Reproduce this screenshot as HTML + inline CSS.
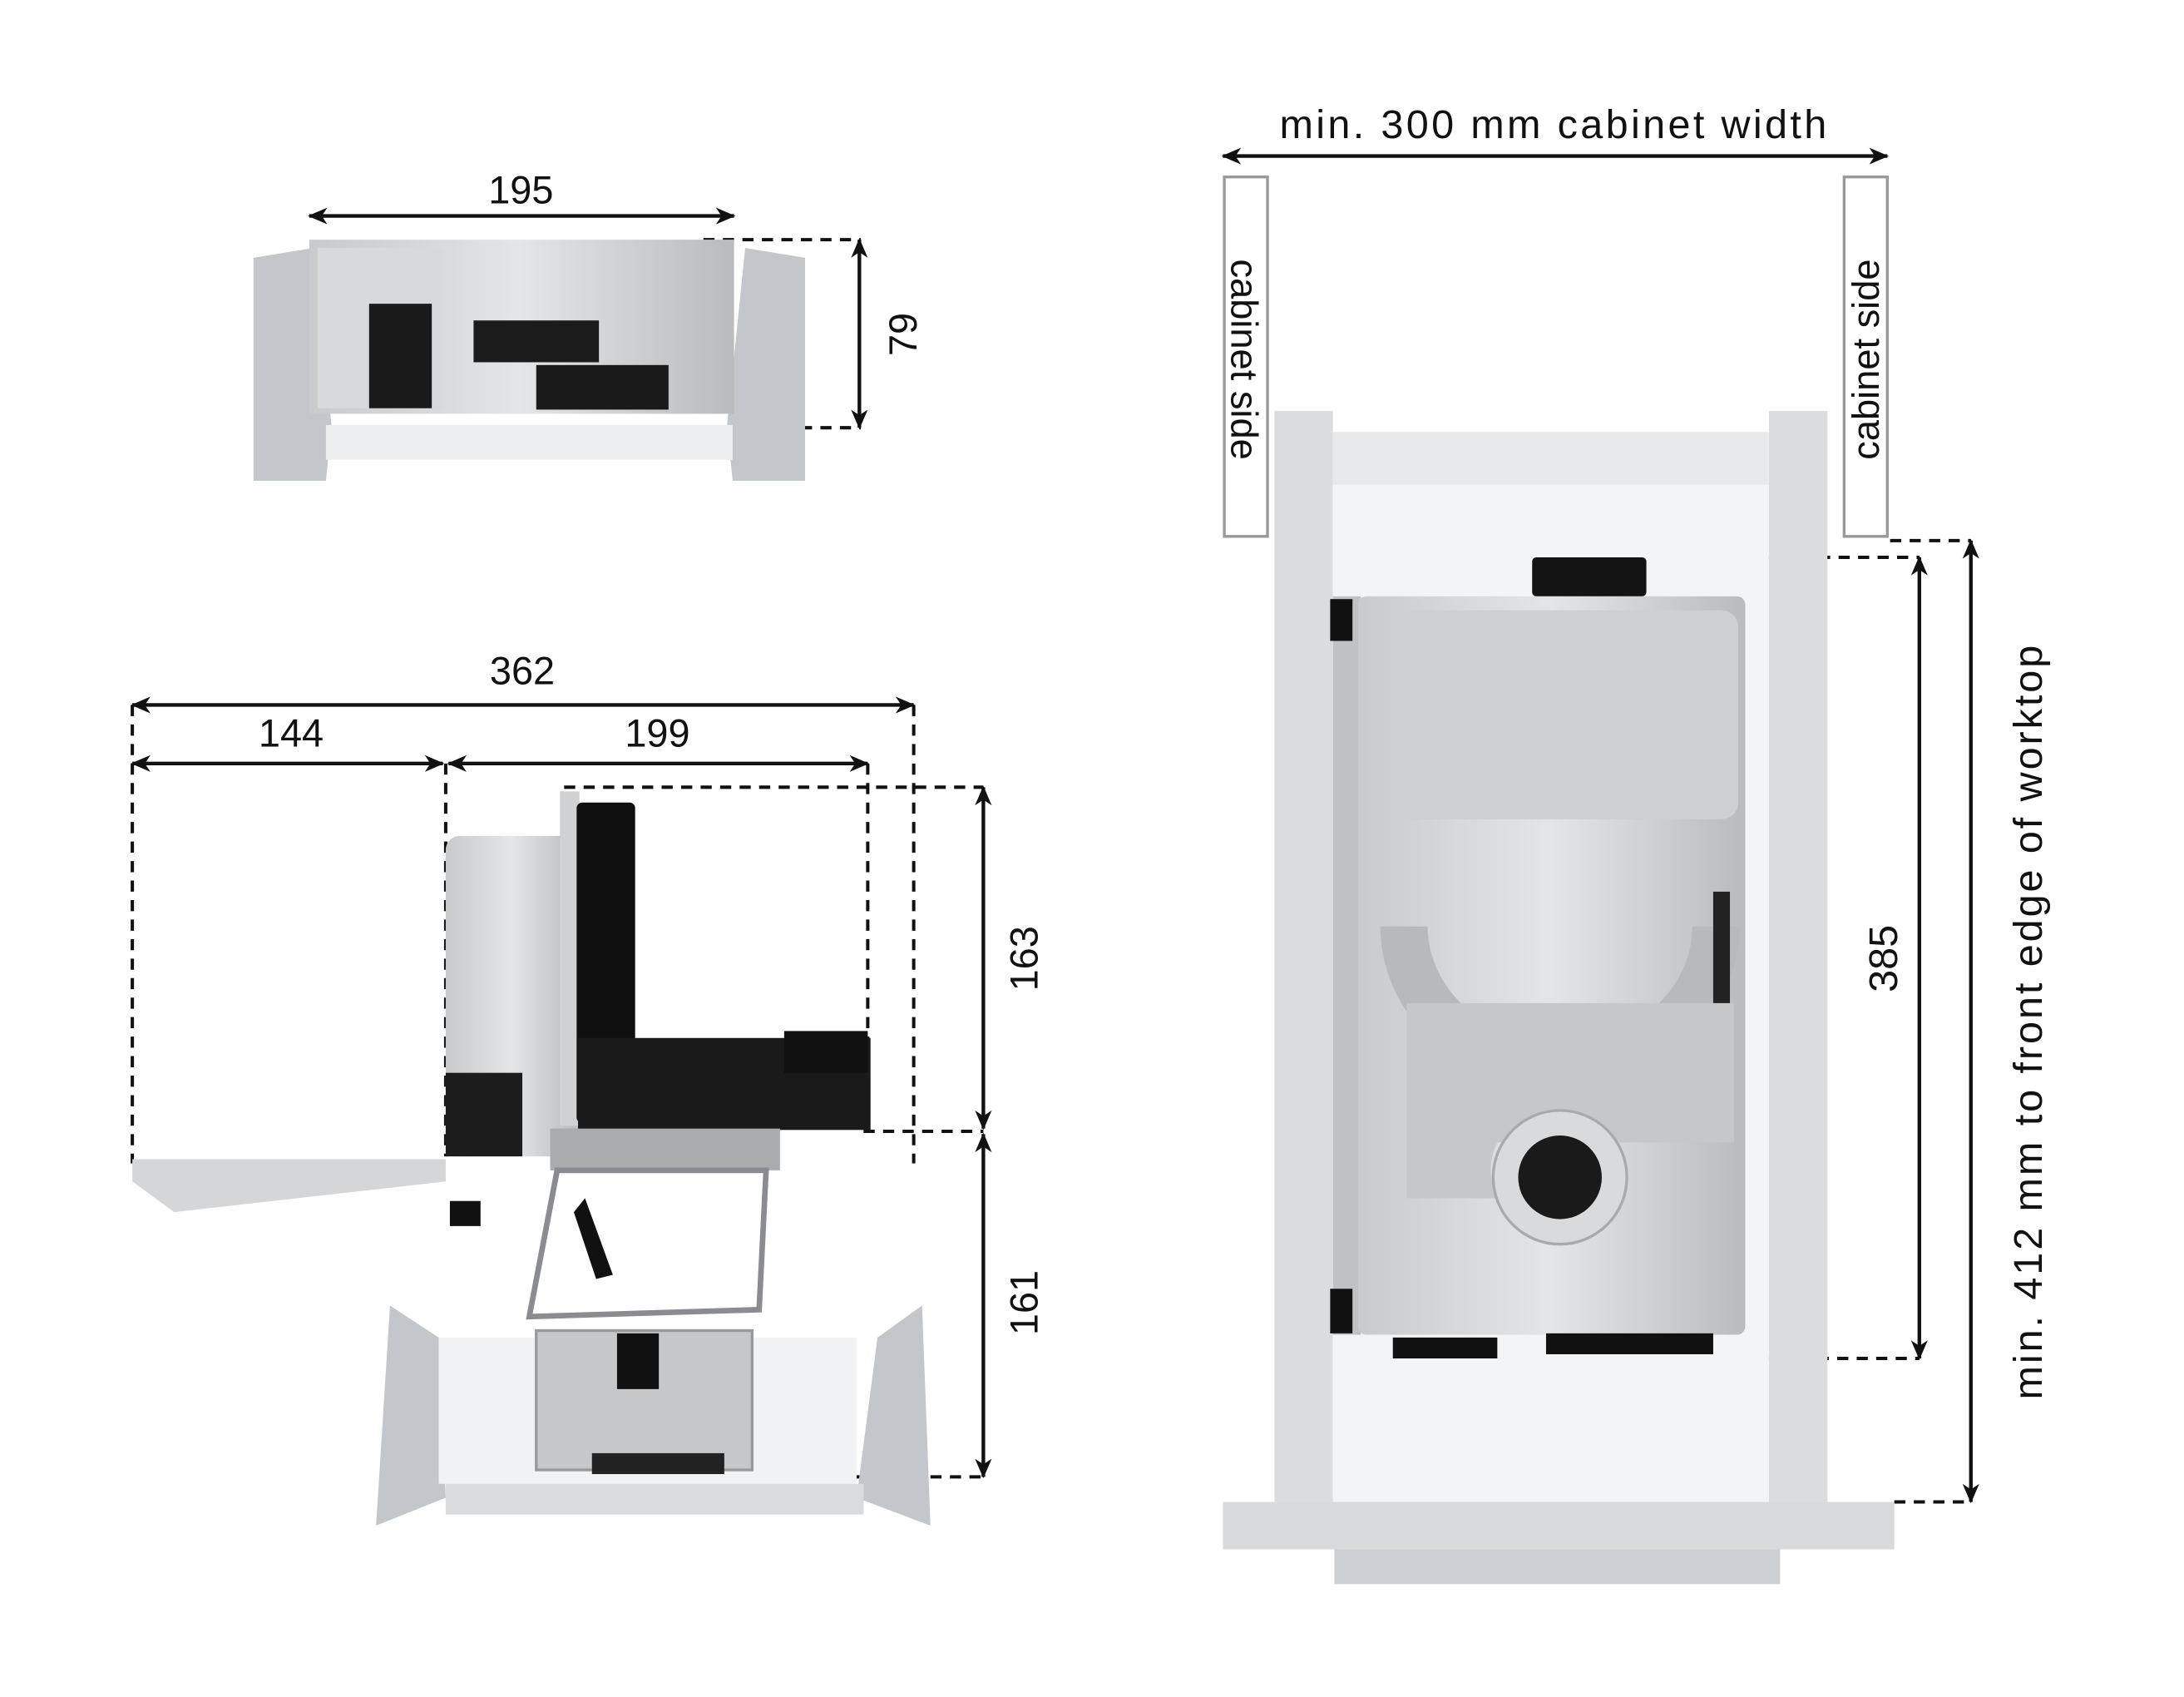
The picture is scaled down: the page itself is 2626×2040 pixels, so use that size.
<!DOCTYPE html>
<html><head><meta charset="utf-8"><style>
html,body{margin:0;padding:0;background:#fff;width:2626px;height:2040px;overflow:hidden}
svg{display:block}
text{font-family:"Liberation Sans",sans-serif;fill:#111}
</style></head><body>
<svg width="2626" height="2040" viewBox="0 0 1568 1218" preserveAspectRatio="none" xmlns="http://www.w3.org/2000/svg">
<defs>
<marker id="a" viewBox="0 0 14 12" refX="13" refY="6" markerWidth="14" markerHeight="12" markerUnits="userSpaceOnUse" orient="auto-start-reverse"><path d="M0,0 L14,6 L0,12 L4,6 Z" fill="#111"/></marker>
<linearGradient id="sil" x1="0" x2="1"><stop offset="0" stop-color="#c8cacc"/><stop offset=".5" stop-color="#e4e5e6"/><stop offset="1" stop-color="#b9bbbd"/></linearGradient>
</defs>
<g stroke="#111" stroke-width="2.4" fill="none" stroke-dasharray="8 6">
<line x1="505" y1="172" x2="618" y2="172"/><line x1="505" y1="307" x2="618" y2="307"/>
<line x1="95" y1="506" x2="95" y2="835"/><line x1="320" y1="548" x2="320" y2="830"/>
<line x1="623" y1="548" x2="623" y2="812"/><line x1="656" y1="506" x2="656" y2="835"/>
<line x1="405" y1="565" x2="706" y2="565"/><line x1="620" y1="812" x2="706" y2="812"/>
<line x1="612" y1="1060" x2="706" y2="1060"/>
<line x1="1180" y1="400" x2="1378" y2="400"/><line x1="1025" y1="975" x2="1378" y2="975"/>
<line x1="1357" y1="388" x2="1415" y2="388"/><line x1="1360" y1="1078" x2="1415" y2="1078"/>
</g>

<path d="M182,185 L225,178 L238,305 L234,345 L182,345 Z" fill="#c3c6ca"/>
<path d="M578,185 L535,178 L522,305 L526,345 L578,345 Z" fill="#c3c6ca"/>
<rect x="234" y="305" width="292" height="25" fill="#eceeef"/>
<rect x="222" y="172" width="305" height="125" fill="url(#sil)"/>
<rect x="228" y="178" width="90" height="115" fill="#d8d9da"/>
<path d="M265,218 h45 v75 h-45 Z" fill="#1a1a1a"/>
<rect x="340" y="230" width="90" height="30" fill="#1b1b1b"/>
<rect x="385" y="262" width="95" height="32" fill="#1a1a1a"/>

<path d="M95,832 L320,832 L320,848 L125,870 L95,848 Z" fill="#d4d6d8"/>
<rect x="320" y="600" width="95" height="230" rx="10" fill="url(#sil)"/>
<rect x="402" y="568" width="14" height="240" fill="#cfd1d3"/>
<rect x="414" y="576" width="42" height="230" rx="4" fill="#0f0f0f"/>
<rect x="415" y="745" width="210" height="66" fill="#1a1a1a"/>
<rect x="563" y="740" width="60" height="30" fill="#111"/>
<rect x="320" y="770" width="55" height="60" fill="#1c1c1c"/>
<rect x="395" y="810" width="165" height="30" fill="#a9abad"/>
<path d="M400,840 L550,840 L545,940 L380,945 Z" fill="none" stroke="#8a8c8f" stroke-width="4"/>
<path d="M420,860 L440,915 L428,918 L412,870Z" fill="#111"/>
<path d="M280,937 L315,960 L320,1075 L270,1095 Z" fill="#c3c6ca"/>
<path d="M662,937 L630,960 L615,1075 L668,1095 Z" fill="#c3c6ca"/>
<rect x="315" y="960" width="300" height="105" fill="#f1f2f3"/>
<rect x="320" y="1065" width="300" height="22" fill="#d9dbdd"/>
<rect x="385" y="955" width="155" height="100" fill="#c5c7c9" stroke="#999" stroke-width="2"/>
<rect x="443" y="957" width="30" height="40" fill="#111"/>
<rect x="425" y="1043" width="95" height="15" fill="#222"/>
<rect x="323" y="862" width="22" height="18" fill="#111"/>

<rect x="915" y="295" width="42" height="783" fill="#dadcde"/>
<rect x="1270" y="295" width="42" height="783" fill="#dadcde"/>
<rect x="957" y="310" width="313" height="38" fill="#e8e9ea"/>
<rect x="957" y="348" width="313" height="730" fill="#f3f4f5"/>
<rect x="878" y="1078" width="482" height="34" fill="#d8dadc"/>
<rect x="958" y="1112" width="320" height="25" fill="#cdd0d2"/>
<rect x="1100" y="400" width="82" height="28" rx="3" fill="#141414"/>
<rect x="957" y="428" width="20" height="530" fill="#bfc1c3"/>
<rect x="955" y="430" width="16" height="30" fill="#111"/><rect x="955" y="925" width="16" height="32" fill="#111"/>
<rect x="975" y="428" width="278" height="530" rx="6" fill="url(#sil)"/>
<rect x="1003" y="438" width="245" height="150" rx="12" fill="#cdcfd1"/>
<path d="M1008,665 A112,100 0 0 0 1232,665" fill="none" stroke="#b7b9bb" stroke-width="34"/>
<rect x="1230" y="640" width="12" height="115" fill="#222"/>
<path d="M1010,720 L1010,860 L1075,860 A45,45 0 0 1 1075,820 L1245,820 L1245,720 Z" fill="#c5c7c9"/>
<circle cx="1120" cy="845" r="48" fill="#d9dadb" stroke="#aaa" stroke-width="2"/>
<circle cx="1120" cy="845" r="30" fill="#1a1a1a"/>
<rect x="1000" y="960" width="75" height="15" fill="#111"/><rect x="1110" y="957" width="120" height="15" fill="#111"/>
<rect x="879" y="127" width="31" height="258" fill="none" stroke="#999" stroke-width="2"/>
<rect x="1324" y="127" width="31" height="258" fill="none" stroke="#999" stroke-width="2"/>

<g stroke="#111" stroke-width="2.6" fill="none">
<line x1="222" y1="155" x2="527" y2="155" marker-start="url(#a)" marker-end="url(#a)"/>
<line x1="617" y1="172" x2="617" y2="307" marker-start="url(#a)" marker-end="url(#a)"/>
<line x1="95" y1="506" x2="656" y2="506" marker-start="url(#a)" marker-end="url(#a)"/>
<line x1="95" y1="548" x2="318" y2="548" marker-start="url(#a)" marker-end="url(#a)"/>
<line x1="322" y1="548" x2="623" y2="548" marker-start="url(#a)" marker-end="url(#a)"/>
<line x1="706" y1="565" x2="706" y2="810" marker-start="url(#a)" marker-end="url(#a)"/>
<line x1="706" y1="814" x2="706" y2="1060" marker-start="url(#a)" marker-end="url(#a)"/>
<line x1="878" y1="112" x2="1355" y2="112" marker-start="url(#a)" marker-end="url(#a)"/>
<line x1="1378" y1="400" x2="1378" y2="975" marker-start="url(#a)" marker-end="url(#a)"/>
<line x1="1415" y1="388" x2="1415" y2="1078" marker-start="url(#a)" marker-end="url(#a)"/>
</g>
<g font-size="28" text-anchor="middle">
<text x="374" y="146">195</text>
<text transform="translate(658,240) rotate(-90)">79</text>
<text x="375" y="491">362</text>
<text x="209" y="536">144</text>
<text x="472" y="536">199</text>
<text transform="translate(745,688) rotate(-90)">163</text>
<text transform="translate(745,935) rotate(-90)">161</text>
</g>
<g font-size="29" text-anchor="middle">
<text x="1116" y="99" letter-spacing="2">min. 300 mm cabinet width</text>
<text transform="translate(1362,688) rotate(-90)">385</text>
<text transform="translate(1466,733) rotate(-90)" letter-spacing="1.75">min. 412 mm to front edge of worktop</text>
</g>
<g font-size="27" text-anchor="middle">
<text transform="translate(884,258) rotate(90)">cabinet side</text>
<text transform="translate(1349,258) rotate(-90)">cabinet side</text>
</g>
</svg>
</body></html>
